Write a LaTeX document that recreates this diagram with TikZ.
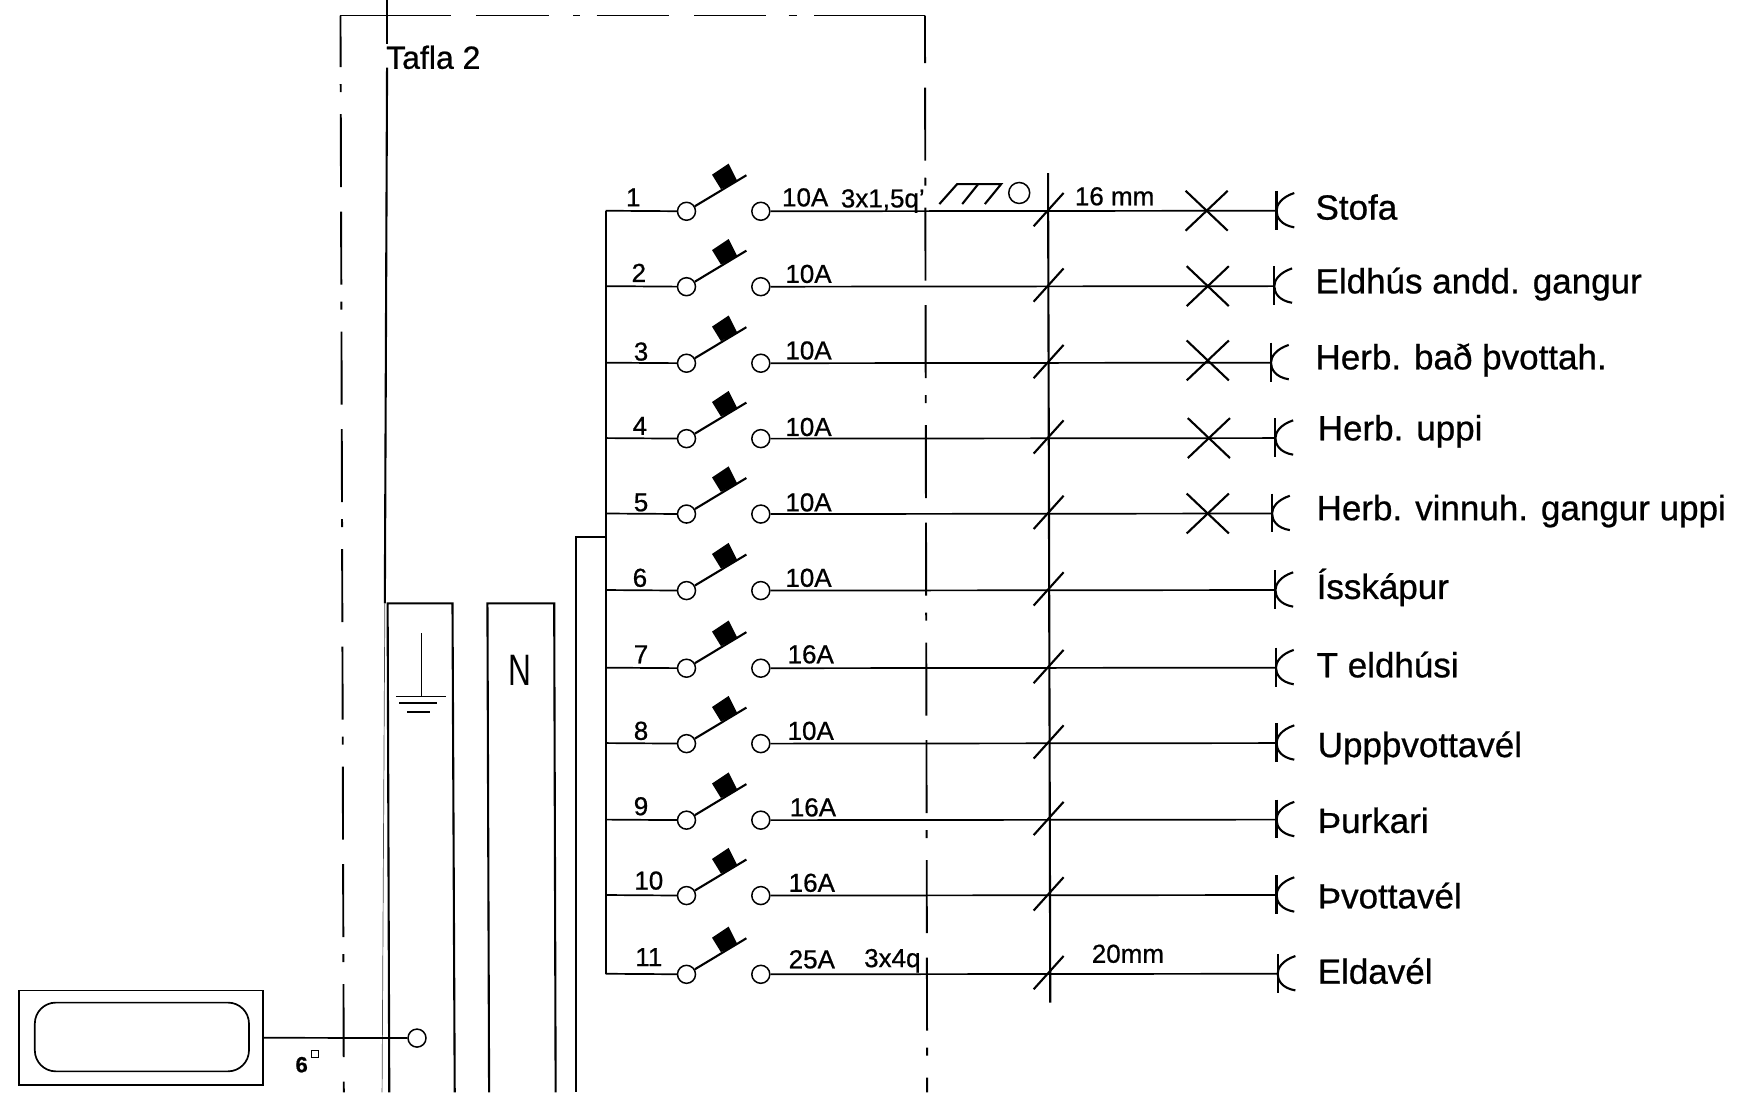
\documentclass[tikz,border=0pt]{standalone}
\usepackage{fontspec}
\setmainfont[FakeBold=0.7]{Liberation Sans}
\newfontfamily\thinfont{Liberation Sans}
\usetikzlibrary{calc}
\tikzset{
  thick wire/.style={line width=2.1pt,black},
  wire/.style={line width=1.7pt,black},
  frame line/.style={line width=1.9pt,black},
  frame dash/.style={frame line,dash pattern=on 73pt off 17pt on 8pt off 22pt on 73pt off 24.5pt},
  term/.style={circle,draw,line width=1.5pt,minimum size=18pt,inner sep=0pt,fill=white},
  small text/.style={font=\fontsize{26}{30}\selectfont,inner sep=0pt},
  big text/.style={font=\fontsize{35}{40}\selectfont,inner sep=0pt,anchor=base west},
}
\begin{document}
\begin{tikzpicture}[x=1.10906pt,y=-1.10906pt]
\useasboundingbox (0,0) rectangle (1568,985);
% frame of the board
\foreach \a/\b in {307/407,429/495,517/523,538/603,626/691,711/719,734/834}
  \draw[frame line] (\a,14) -- (\b,14);
\draw[frame dash,dash phase=21.5pt] (307,14) -- (310,985);
\draw[frame dash,dash phase=145.5pt] (834,14) -- (836,985);
% incoming vertical line
\draw[thick wire] (349,0) -- (349,40);
\draw[thick wire] (349,61) -- (347,544);
\draw[line width=.7pt,black!70] (347,544) -- (344.5,985);
% earth and neutral bars
\draw[thick wire] (351,985) -- (349.5,544) -- (408,544) -- (410,985);
\draw[thick wire] (441,985) -- (439.5,544) -- (499.7,544) -- (501,985);
\coordinate (et) at (380,571);
\coordinate (eb) at (380,628);
\draw[wire] (et) -- (eb);
\draw[wire] (357,628) -- (402,628);
\draw[wire] (360,634) -- (394,634);
\draw[wire] (367,642) -- (388,642);
\node[inner sep=0pt,font=\thinfont\fontsize{44}{50}\selectfont] (nbar) at (469,604) {\scalebox{.72}[1]{N}};
% title
\node[inner sep=0pt,anchor=base west,font=\fontsize{32}{36}\selectfont] (title) at (348,62) {Tafla 2};
% meter
\node[draw,line width=1.6pt,minimum width=220pt*1.109,minimum height=85.5pt*1.109,inner sep=0pt] (meter) at (127,935.7) {};
\draw[line width=1.7pt,rounded corners=21pt] (31.4,904) rectangle (224.5,966);
\node[term] (earthpt) at (376,936) {};
\draw[wire] (meter.east) -- (earthpt);
\node[inner sep=0pt,font=\fontsize{22}{26}\selectfont\bfseries] (six) at (272,960) {6};
\node[draw,line width=1pt,minimum size=7pt,inner sep=0pt] (sq) at (284,950.5) {};
% bus
\coordinate (bus1) at (546,190);
\coordinate (bus11) at (546,878);
\coordinate (feed) at (546,484);
\coordinate (feedc) at (519,484);
\coordinate (feedb) at (519,985);
\draw[thick wire] (bus1) -- (bus11);
\draw[thick wire] (feed) -- (feedc) -- (feedb);
% main vertical line at the cable trays
\coordinate (vt) at (945,156);
\coordinate (vb) at (947,904);
\draw[thick wire] (vt) -- (vb);
% rows
\foreach \i/\y/\nx/\ny/\ax/\ay/\amp/\cx/\lx/\ly/\txt in {
  1/190/571/178/726/178/10A/1151/1186/198/Stofa,
  2/258/576/246/729/247/10A/1149/1186/264.5/Eldhús andd. gangur,
  3/327/578/317/729/316/10A/1146/1186/333/Herb. bað þvottah.,
  4/395/577/384/729/385/10A/1150/1188/397/Herb. uppi,
  5/463/578/453/729/453/10A/1147/1187/469/Herb. vinnuh. gangur uppi,
  6/532/577/521/729/521/10A/1150/1187/540/Ísskápur,
  7/602/578/590/731/590/16A/1150.5/1187/610.7/T eldhúsi,
  8/670/578/659/731/659/10A/1151/1188/682.6/Uppþvottavél,
  9/739/578/727/733/728/16A/1151/1188/751/Þurkari,
  10/807/585/794/732/796/16A/1151/1188/819/Þvottavél,
  11/878/585/863/732/865/25A/1152/1188/887/Eldavél}{
  \coordinate (b\i) at (546,\y);
  \node[term] (sl\i) at (619,\y+.5) {};
  \node[term] (sr\i) at (686,\y+.5) {};
  \coordinate (c\i) at (\cx,\y);
  \draw[wire] (b\i) -- (sl\i);
  \draw[wire] (sr\i) -- (c\i);
  % switch arm and knob
  \coordinate (arm\i) at (673,\y-32);
  \draw[thick wire] (sl\i) -- (arm\i);
  \fill[black] ($(619,\y+.5)+(23,-33)$) -- ($(619,\y+.5)+(38,-43)$) -- ($(619,\y+.5)+(46,-27)$) -- ($(619,\y+.5)+(31,-20)$) -- cycle;
  % socket
  \draw[thick wire] ($(c\i)+(0,-18)$) -- ($(c\i)+(0,17)$);
  \draw[thick wire] ($(c\i)+(16,-16)$) .. controls ($(c\i)+(4,-12)$) and ($(c\i)+(0,-5)$) .. ($(c\i)+(0,0)$) .. controls ($(c\i)+(0,6)$) and ($(c\i)+(4,13)$) .. ($(c\i)+(16,15)$);
  % slash over the vertical line
  \coordinate (sa\i) at (932,\y+14);
  \coordinate (sb\i) at (959,\y-16);
  \draw[thick wire] (sa\i) -- (sb\i);
  % texts
  \node[small text] (n\i) at (\nx,\ny) {\i};
  \node[small text] (a\i) at (\ax,\ay) {\amp};
  \node[big text] (lab\i) at (\lx,\ly) {\txt};
}
% luminaire crosses
\foreach \i/\y/\xc in {1/190/1088,2/258/1089,3/325/1089,4/395/1090,5/463/1089}{
  \coordinate (x\i) at (\xc,\y);
  \draw[thick wire] ($(x\i)+(-19,-18)$) -- ($(x\i)+(19,18)$);
  \draw[thick wire] ($(x\i)+(-19,18)$) -- ($(x\i)+(19,-18)$);
}
% tray symbol
\draw[thick wire] (847,184) -- (863,166) -- (902.7,166) -- (888,184);
\draw[thick wire] (867.6,184) -- (882,166);
\node[draw,circle,line width=1.5pt,minimum size=21pt,inner sep=0pt] (tray) at (919,174) {};
% extra labels
\node[small text,anchor=base west] (s1) at (758,187) {3x1,5q'};
\node[small text] (mm16) at (1005,177) {16 mm};
\node[small text,anchor=base west] (s2) at (779,872) {3x4q};
\node[small text] (mm20) at (1017,860) {20mm};
\end{tikzpicture}
\end{document}
